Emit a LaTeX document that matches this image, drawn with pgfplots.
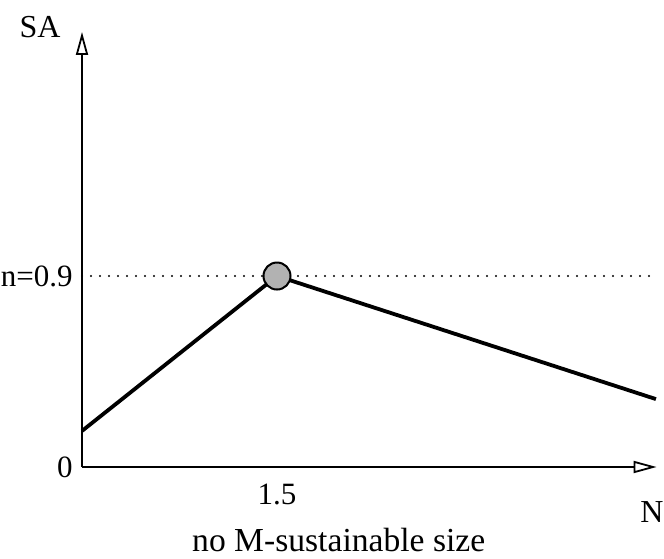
\documentclass[border=0pt]{standalone}
\usepackage{pgfplots}
\pgfplotsset{compat=1.18}
\usetikzlibrary{arrows.meta}
\usepackage{fontspec}
\setmainfont{Liberation Serif}
\begin{document}
\fontsize{16}{19}\selectfont
\begin{tikzpicture}
\begin{axis}[
  x=65pt, y=106.1pt,
  xmin=0, xmax=4.42, ymin=0, ymax=2.05,
  axis lines=left,
  axis line style={line width=0.9pt, -{Triangle[open,length=11.5pt,width=6pt,line width=0.9pt]}},
  xtick={1.5}, xticklabels={1.5},
  ytick={0,0.9}, yticklabels={0,n=0.9},
  major tick length=0pt,
  tick label style={font=\fontsize{15.5}{18}\selectfont},
  xticklabel style={yshift=-3pt},
  yticklabel style={xshift=0.8pt},
  /pgf/number format/assume math mode=true,
  clip=false,
]
\addplot[black, line width=1.1pt, line cap=round, dash pattern=on 0pt off 4.5pt] coordinates {(0,0.9) (4.4,0.9)};
\addplot[only marks, mark=*, mark size=6.75pt, mark options={fill=gray!60, draw=black, line width=1pt}] coordinates {(1.5,0.9)};
\addplot[black, line width=1.9pt] coordinates {(0,0.17) (1.5,0.9) (4.415,0.32)};
\coordinate (O) at (axis cs:0,0);
\node at (axis cs:-0.323,2.074) {SA};
\node at (axis cs:4.385,-0.212) {N};
\node[font=\fontsize{16.8}{20}\selectfont] at (axis cs:1.975,-0.345) {no M-sustainable size};
\end{axis}
\pgfresetboundingbox
\path (O) ++(-41pt,-45.5pt) rectangle ++(332pt,279pt);
\end{tikzpicture}
\end{document}
